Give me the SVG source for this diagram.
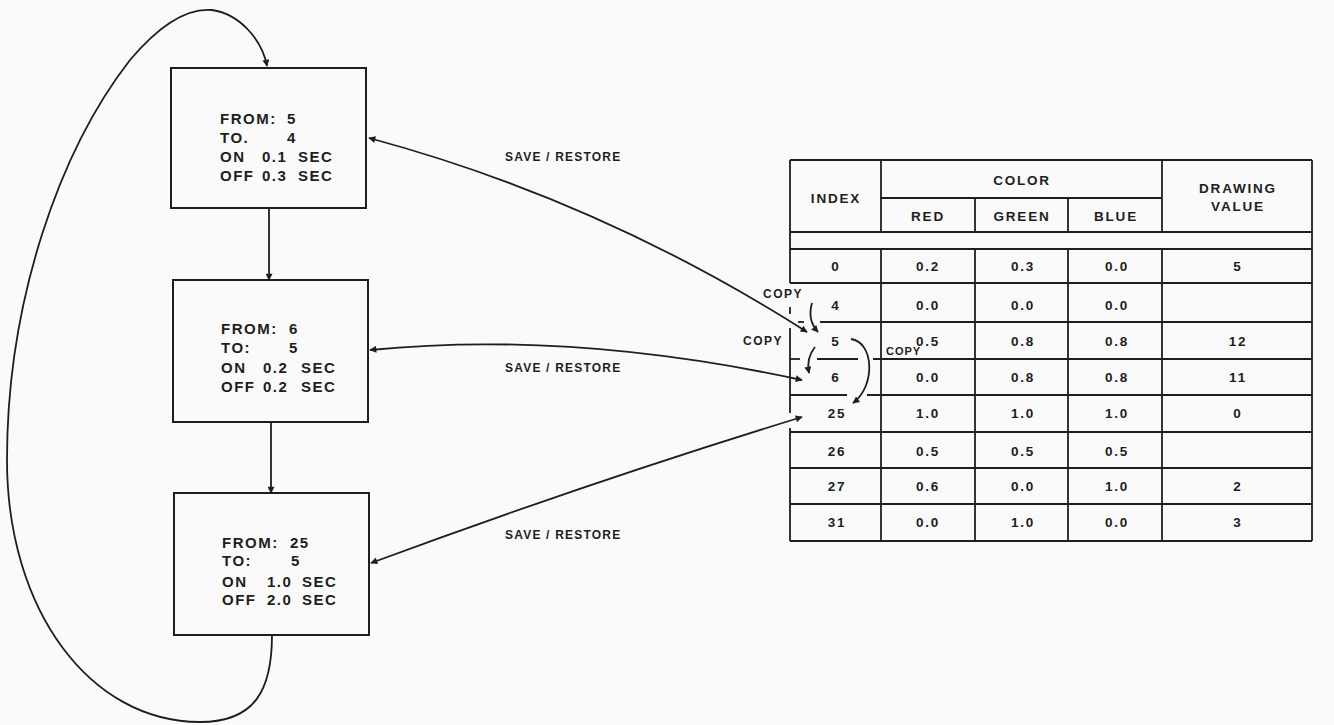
<svg xmlns="http://www.w3.org/2000/svg" width="1334" height="725" viewBox="0 0 1334 725">
<style>
.ln{stroke:#1e1e1e;stroke-width:1.8;fill:none}
.bx{stroke:#1e1e1e;stroke-width:2;fill:none}
.t{font-family:"Liberation Sans",Arial,sans-serif;font-weight:bold;fill:#1e1e1e;font-size:15px;letter-spacing:1.5px}
.tb{font-family:"Liberation Sans",Arial,sans-serif;font-weight:bold;fill:#1e1e1e;font-size:13.5px;letter-spacing:1.8px;text-anchor:middle;dominant-baseline:central}
.lb{font-family:"Liberation Sans",Arial,sans-serif;font-weight:bold;fill:#1e1e1e;font-size:12px;letter-spacing:1.2px;dominant-baseline:central}
.cp{font-family:"Liberation Sans",Arial,sans-serif;font-weight:bold;fill:#1e1e1e;font-size:12px;letter-spacing:1.5px;dominant-baseline:central}
</style>
<defs>
<marker id="ah" viewBox="0 0 10 10" refX="9" refY="5" markerWidth="10" markerHeight="7" markerUnits="userSpaceOnUse" orient="auto-start-reverse">
<path d="M0,0 L10,5 L0,10 z" fill="#1e1e1e"/>
</marker>
</defs>
<rect width="1334" height="725" fill="#fafafa"/>

<g id="box1">
<rect class="bx" x="171" y="68" width="195" height="140"/>
<text class="t" x="220" y="124">FROM:<tspan x="287">5</tspan></text>
<text class="t" x="220" y="143">TO.<tspan x="287">4</tspan></text>
<text class="t" x="220" y="162">ON<tspan x="262">0.1</tspan><tspan x="298">SEC</tspan></text>
<text class="t" x="220" y="181">OFF<tspan x="262">0.3</tspan><tspan x="298">SEC</tspan></text>
</g>

<g id="box2">
<rect class="bx" x="173" y="280" width="195" height="142"/>
<text class="t" x="221" y="334">FROM:<tspan x="289">6</tspan></text>
<text class="t" x="221" y="353">TO:<tspan x="289">5</tspan></text>
<text class="t" x="221" y="373">ON<tspan x="263">0.2</tspan><tspan x="301">SEC</tspan></text>
<text class="t" x="221" y="392">OFF<tspan x="263">0.2</tspan><tspan x="301">SEC</tspan></text>
</g>

<g id="box3">
<rect class="bx" x="174" y="493" width="195" height="142"/>
<text class="t" x="222" y="548">FROM:<tspan x="290">25</tspan></text>
<text class="t" x="222" y="566">TO:<tspan x="291">5</tspan></text>
<text class="t" x="222" y="587">ON<tspan x="267">1.0</tspan><tspan x="302">SEC</tspan></text>
<text class="t" x="222" y="605">OFF<tspan x="267">2.0</tspan><tspan x="302">SEC</tspan></text>
</g>

<g id="table">
<line class="ln" x1="790" y1="160" x2="1312" y2="160"/>
<line class="ln" x1="1312" y1="160" x2="1312" y2="541"/>
<line class="ln" x1="790" y1="541" x2="1312" y2="541"/>
<line class="ln" x1="790" y1="160" x2="790" y2="283"/>
<line class="ln" x1="790" y1="307" x2="790" y2="314"/>
<line class="ln" x1="790" y1="328" x2="790" y2="413"/>
<line class="ln" x1="790" y1="428" x2="790" y2="541"/>
<line class="ln" x1="880" y1="198" x2="1162" y2="198"/>
<line class="ln" x1="790" y1="232" x2="1312" y2="232"/>
<line class="ln" x1="790" y1="249" x2="1312" y2="249"/>
<line class="ln" x1="790" y1="283" x2="1312" y2="283"/>
<line class="ln" x1="798" y1="322" x2="804" y2="322"/>
<line class="ln" x1="820" y1="322" x2="1312" y2="322"/>
<line class="ln" x1="790" y1="359" x2="800" y2="359"/>
<line class="ln" x1="817" y1="359" x2="858" y2="359"/>
<line class="ln" x1="873" y1="359" x2="1312" y2="359"/>
<line class="ln" x1="790" y1="395" x2="847" y2="395"/>
<line class="ln" x1="867" y1="395" x2="1312" y2="395"/>
<line class="ln" x1="790" y1="432" x2="1312" y2="432"/>
<line class="ln" x1="790" y1="468" x2="1312" y2="468"/>
<line class="ln" x1="790" y1="504" x2="1312" y2="504"/>
<line class="ln" x1="881" y1="160" x2="881" y2="232"/>
<line class="ln" x1="881" y1="249" x2="881" y2="541"/>
<line class="ln" x1="975" y1="198" x2="975" y2="232"/>
<line class="ln" x1="975" y1="249" x2="975" y2="541"/>
<line class="ln" x1="1068" y1="198" x2="1068" y2="232"/>
<line class="ln" x1="1068" y1="249" x2="1068" y2="541"/>
<line class="ln" x1="1162" y1="160" x2="1162" y2="232"/>
<line class="ln" x1="1162" y1="249" x2="1162" y2="541"/>
<text class="tb" x="836" y="198">INDEX</text>
<text class="tb" x="1022" y="180">COLOR</text>
<text class="tb" x="928" y="216">RED</text>
<text class="tb" x="1022" y="216">GREEN</text>
<text class="tb" x="1116" y="216">BLUE</text>
<text class="tb" x="1238" y="188">DRAWING</text>
<text class="tb" x="1238" y="206">VALUE</text>
<g>
<text class="tb" x="836" y="266">0</text><text class="tb" x="928" y="266">0.2</text><text class="tb" x="1023" y="266">0.3</text><text class="tb" x="1117" y="266">0.0</text><text class="tb" x="1238" y="266">5</text>
<text class="tb" x="836" y="305">4</text><text class="tb" x="928" y="305">0.0</text><text class="tb" x="1023" y="305">0.0</text><text class="tb" x="1117" y="305">0.0</text>
<text class="tb" x="836" y="341">5</text><text class="tb" x="928" y="341">0.5</text><text class="tb" x="1023" y="341">0.8</text><text class="tb" x="1117" y="341">0.8</text><text class="tb" x="1238" y="341">12</text>
<text class="tb" x="836" y="377">6</text><text class="tb" x="928" y="377">0.0</text><text class="tb" x="1023" y="377">0.8</text><text class="tb" x="1117" y="377">0.8</text><text class="tb" x="1238" y="377">11</text>
<text class="tb" x="837" y="413">25</text><text class="tb" x="928" y="413">1.0</text><text class="tb" x="1023" y="413">1.0</text><text class="tb" x="1117" y="413">1.0</text><text class="tb" x="1238" y="413">0</text>
<text class="tb" x="837" y="451">26</text><text class="tb" x="928" y="451">0.5</text><text class="tb" x="1023" y="451">0.5</text><text class="tb" x="1117" y="451">0.5</text>
<text class="tb" x="837" y="486">27</text><text class="tb" x="928" y="486">0.6</text><text class="tb" x="1023" y="486">0.0</text><text class="tb" x="1117" y="486">1.0</text><text class="tb" x="1238" y="486">2</text>
<text class="tb" x="837" y="522">31</text><text class="tb" x="928" y="522">0.0</text><text class="tb" x="1023" y="522">1.0</text><text class="tb" x="1117" y="522">0.0</text><text class="tb" x="1238" y="522">3</text>
</g>
</g>

<g id="connectors">
<path class="ln" d="M 269 208 L 269 280" marker-end="url(#ah)"/>
<path class="ln" d="M 271 422 L 271 493" marker-end="url(#ah)"/>
<path class="ln" d="M 272 635 C 272 690 255 722 200 722 C 90 722 7 610 7 460 C 7 300 60 150 130 60 C 162 22 190 8 212 10 C 240 14 262 40 267 66" marker-end="url(#ah)"/>
<path class="ln" d="M 369 138 Q 600 200 807 332" marker-start="url(#ah)" marker-end="url(#ah)"/>
<path class="ln" d="M 370 350 Q 570 330 802 380" marker-start="url(#ah)" marker-end="url(#ah)"/>
<path class="ln" d="M 371 563 Q 590 482 802 417" marker-start="url(#ah)" marker-end="url(#ah)"/>
<path class="ln" d="M 812 303 Q 807 320 818 332" marker-end="url(#ah)"/>
<path class="ln" d="M 815 347 Q 806 358 809 373" marker-end="url(#ah)"/>
<path class="ln" d="M 851 339 C 874 342 876 386 853 403" marker-end="url(#ah)"/>
<text class="lb" x="505" y="157">SAVE / RESTORE</text>
<text class="lb" x="505" y="368">SAVE / RESTORE</text>
<text class="lb" x="505" y="535">SAVE / RESTORE</text>
<text class="cp" x="763" y="294">COPY</text>
<text class="cp" x="743" y="341">COPY</text>
<text class="cp" x="886" y="351" style="font-size:11px;letter-spacing:1px">COPY</text>
</g>
</svg>
